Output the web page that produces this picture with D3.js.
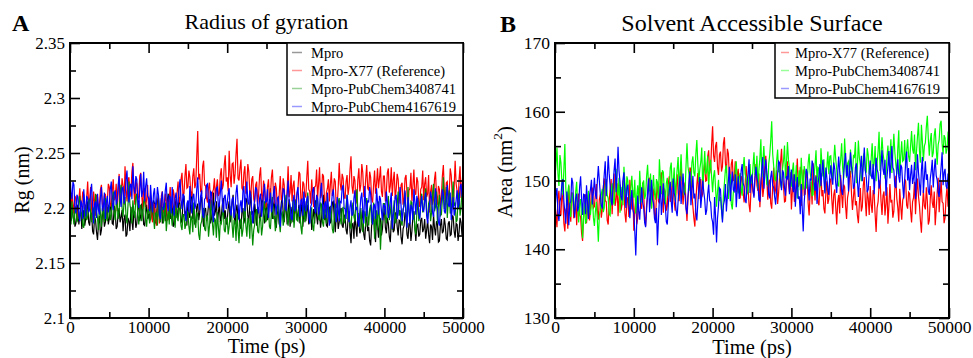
<!DOCTYPE html>
<html>
<head>
<meta charset="utf-8">
<script src="https://cdn.jsdelivr.net/npm/d3@7"></script>
<style>
  body { margin: 0; background: #fff; }
  text { font-family: "Liberation Serif", "Times New Roman", serif; fill: #000; }
</style>
</head>
<body>
<svg id="chart" width="973" height="358"></svg>
<script>
// simulation length, samples are evenly spaced over it
const tEnd = 50000;

// Panel A: radius of gyration (nm)
const rgMpro = [
  2.205,2.188,2.192,2.201,2.199,2.183,2.186,2.197,2.203,2.185,2.194,2.200,2.181,2.191,2.198,2.184,2.190,2.199,2.206,2.187,2.184,2.196,2.195,2.179,2.176,2.192,2.189,2.178,2.171,2.186,2.193,2.175,2.180,2.194,2.198,2.183,2.187,2.196,2.201,2.185,
  2.190,2.199,2.204,2.186,2.185,2.202,2.197,2.181,2.183,2.195,2.200,2.187,2.192,2.198,2.179,2.190,2.194,2.174,2.176,2.191,2.188,2.179,2.201,2.189,2.180,2.197,2.196,2.182,2.186,2.199,2.207,2.188,2.193,2.204,2.199,2.185,2.184,2.196,2.203,2.190,
  2.195,2.188,2.210,2.197,2.189,2.207,2.204,2.186,2.193,2.205,2.212,2.192,2.198,2.209,2.186,2.199,2.205,2.188,2.194,2.207,2.213,2.196,2.190,2.204,2.201,2.183,2.185,2.202,2.208,2.191,2.196,2.210,2.203,2.187,2.188,2.206,2.211,2.193,2.197,2.184,
  2.206,2.194,2.191,2.209,2.215,2.190,2.199,2.185,2.187,2.201,2.204,2.189,2.196,2.207,2.210,2.192,2.183,2.198,2.200,2.188,2.193,2.203,2.208,2.186,2.190,2.199,2.214,2.193,2.197,2.206,2.186,2.195,2.205,2.187,2.192,2.203,2.209,2.190,2.198,2.185,
  2.189,2.200,2.206,2.187,2.194,2.205,2.212,2.192,2.185,2.198,2.203,2.190,2.196,2.184,2.181,2.197,2.200,2.186,2.191,2.209,2.207,2.193,2.188,2.202,2.215,2.194,2.197,2.186,2.204,2.195,2.184,2.201,2.199,2.188,2.192,2.206,2.210,2.195,2.186,2.199,
  2.202,2.189,2.195,2.207,2.218,2.198,2.190,2.203,2.206,2.188,2.182,2.196,2.198,2.185,2.193,2.204,2.211,2.195,2.187,2.199,2.204,2.185,2.196,2.208,2.183,2.194,2.201,2.187,2.190,2.200,2.208,2.189,2.194,2.203,2.186,2.197,2.205,2.183,2.197,2.206,
  2.188,2.198,2.203,2.185,2.192,2.200,2.180,2.191,2.199,2.186,2.207,2.193,2.185,2.200,2.196,2.182,2.190,2.203,2.212,2.189,2.194,2.184,2.183,2.197,2.201,2.186,2.189,2.205,2.206,2.191,2.178,2.193,2.195,2.181,2.187,2.198,2.200,2.184,2.182,2.194,
  2.191,2.180,2.176,2.190,2.197,2.179,2.168,2.185,2.186,2.172,2.194,2.183,2.174,2.195,2.189,2.177,2.180,2.191,2.198,2.176,2.171,2.187,2.192,2.179,2.183,2.170,2.166,2.184,2.188,2.193,2.178,2.169,2.195,2.184,2.173,2.189,2.190,2.175,2.181,2.194,
  2.199,2.182,2.177,2.191,2.186,2.174,2.169,2.188,2.193,2.178,2.180,2.195,2.196,2.183,2.175,2.189,2.188,2.173,2.167,2.181,2.184,2.196,2.192,2.176,2.172,2.186,2.187,2.170,2.179,2.192,2.197,2.182,2.170,2.184,2.185,2.174,2.176,2.189,2.191,2.178,
  2.181,2.190,2.172,2.180,2.189,2.176,2.168,2.185,2.183,2.171,2.194,2.182,2.175,2.188,2.186,2.169,2.170,2.184,2.190,2.177,2.179,2.191,2.184,2.172,2.171,2.186,2.188,2.175,2.176,2.193,2.192,2.179,2.173,2.186,2.185,2.170,2.178,2.191,2.187,2.175,2.180];
const rgX77 = [
  2.201,2.193,2.214,2.205,2.195,2.211,2.209,2.196,2.190,2.207,2.218,2.200,2.203,2.215,2.212,2.194,2.196,2.210,2.224,2.202,2.207,2.219,2.199,2.189,2.215,2.206,2.193,2.212,2.210,2.198,2.204,2.217,2.221,2.203,2.198,2.211,2.213,2.195,2.206,2.222,
  2.219,2.204,2.201,2.215,2.226,2.207,2.209,2.222,2.197,2.213,2.231,2.205,2.212,2.227,2.220,2.203,2.238,2.217,2.206,2.225,2.228,2.210,2.214,2.233,2.241,2.216,2.203,2.224,2.222,2.207,2.211,2.229,2.232,2.212,2.199,2.218,2.217,2.201,2.208,2.221,
  2.196,2.207,2.212,2.193,2.187,2.204,2.203,2.190,2.184,2.199,2.209,2.186,2.192,2.211,2.215,2.197,2.198,2.213,2.206,2.189,2.190,2.208,2.219,2.200,2.201,2.217,2.212,2.196,2.195,2.214,2.224,2.205,2.207,2.226,2.232,2.211,2.213,2.229,2.240,2.218,
  2.219,2.234,2.228,2.212,2.211,2.229,2.236,2.218,2.222,2.247,2.270,2.226,2.231,2.215,2.214,2.238,2.243,2.221,2.220,2.209,2.205,2.218,2.223,2.206,2.199,2.214,2.217,2.227,2.208,2.219,2.226,2.211,2.213,2.230,2.236,2.217,2.221,2.239,2.248,2.224,
  2.228,2.215,2.252,2.230,2.219,2.240,2.241,2.222,2.231,2.249,2.263,2.227,2.225,2.236,2.244,2.218,2.216,2.232,2.238,2.213,2.222,2.240,2.233,2.214,2.210,2.226,2.229,2.208,2.205,2.221,2.224,2.203,2.213,2.230,2.237,2.212,2.207,2.225,2.219,2.200,
  2.202,2.219,2.226,2.208,2.211,2.228,2.235,2.215,2.204,2.223,2.218,2.201,2.197,2.214,2.229,2.207,2.209,2.227,2.221,2.199,2.200,2.216,2.238,2.210,2.214,2.230,2.206,2.220,2.225,2.205,2.195,2.212,2.217,2.233,2.231,2.208,2.203,2.224,2.222,2.211,
  2.210,2.228,2.243,2.217,2.215,2.204,2.226,2.212,2.201,2.219,2.220,2.235,2.208,2.222,2.237,2.209,2.212,2.231,2.229,2.207,2.198,2.214,2.218,2.226,2.206,2.221,2.233,2.211,2.214,2.227,2.224,2.200,2.203,2.219,2.241,2.222,2.216,2.231,2.227,2.209,
  2.209,2.224,2.230,2.212,2.219,2.235,2.247,2.220,2.213,2.229,2.225,2.204,2.207,2.226,2.236,2.215,2.221,2.240,2.232,2.211,2.212,2.227,2.239,2.218,2.216,2.233,2.228,2.208,2.205,2.221,2.234,2.213,2.222,2.236,2.218,2.227,2.238,2.215,2.210,2.229,
  2.229,2.206,2.215,2.232,2.236,2.214,2.220,2.237,2.211,2.225,2.233,2.208,2.217,2.231,2.226,2.210,2.204,2.221,2.223,2.203,2.209,2.227,2.230,2.213,2.198,2.216,2.218,2.232,2.206,2.220,2.235,2.214,2.212,2.228,2.224,2.205,2.201,2.217,2.219,2.234,
  2.207,2.222,2.228,2.210,2.213,2.230,2.196,2.215,2.221,2.203,2.208,2.226,2.233,2.212,2.203,2.220,2.217,2.201,2.211,2.229,2.239,2.216,2.205,2.223,2.224,2.208,2.214,2.236,2.230,2.212,2.200,2.219,2.243,2.222,2.215,2.204,2.226,2.238,2.209,2.221,2.235];
const rgPC3408741 = [
  2.193,2.185,2.206,2.194,2.185,2.200,2.201,2.187,2.190,2.205,2.211,2.193,2.196,2.184,2.182,2.199,2.203,2.189,2.192,2.207,2.208,2.195,2.187,2.201,2.199,2.186,2.213,2.196,2.191,2.180,2.204,2.195,2.183,2.200,2.197,2.187,2.209,2.192,2.188,2.202,
  2.202,2.189,2.194,2.208,2.215,2.196,2.189,2.203,2.206,2.190,2.197,2.214,2.221,2.200,2.192,2.205,2.210,2.193,2.186,2.202,2.224,2.203,2.198,2.186,2.207,2.196,2.191,2.210,2.213,2.194,2.185,2.199,2.203,2.188,2.195,2.206,2.209,2.190,2.183,2.197,
  2.199,2.186,2.190,2.202,2.205,2.191,2.181,2.195,2.196,2.184,2.208,2.193,2.187,2.199,2.201,2.186,2.193,2.205,2.179,2.190,2.198,2.185,2.206,2.194,2.184,2.198,2.195,2.182,2.203,2.192,2.188,2.200,2.200,2.184,2.180,2.194,2.194,2.181,2.185,2.197,
  2.197,2.183,2.176,2.193,2.190,2.178,2.205,2.187,2.182,2.196,2.194,2.176,2.171,2.185,2.188,2.198,2.200,2.181,2.179,2.192,2.193,2.174,2.184,2.197,2.207,2.186,2.175,2.191,2.189,2.173,2.196,2.183,2.170,2.188,2.186,2.194,2.199,2.180,2.178,2.190,
  2.191,2.176,2.183,2.195,2.202,2.185,2.173,2.189,2.187,2.170,2.195,2.181,2.168,2.186,2.190,2.174,2.180,2.193,2.204,2.184,2.174,2.191,2.188,2.172,2.197,2.182,2.166,2.180,2.185,2.194,2.199,2.179,2.177,2.190,2.192,2.175,2.183,2.198,2.206,2.187,
  2.189,2.204,2.199,2.183,2.181,2.196,2.210,2.190,2.193,2.179,2.186,2.201,2.204,2.187,2.178,2.194,2.197,2.184,2.190,2.205,2.212,2.193,2.184,2.198,2.201,2.186,2.194,2.207,2.182,2.195,2.207,2.189,2.188,2.200,2.198,2.183,2.176,2.192,2.203,2.187,
  2.192,2.203,2.214,2.195,2.186,2.199,2.200,2.184,2.179,2.193,2.196,2.210,2.208,2.190,2.189,2.205,2.203,2.187,2.183,2.197,2.199,2.186,2.211,2.194,2.187,2.202,2.195,2.181,2.177,2.192,2.204,2.188,2.193,2.206,2.209,2.191,2.185,2.198,2.201,2.186,
  2.190,2.202,2.212,2.189,2.196,2.185,2.181,2.197,2.205,2.192,2.188,2.208,2.217,2.196,2.194,2.182,2.200,2.187,2.178,2.193,2.197,2.183,2.209,2.195,2.184,2.199,2.203,2.186,2.191,2.205,2.172,2.189,2.198,2.180,2.206,2.190,2.162,2.183,2.193,2.204,
  2.204,2.192,2.186,2.200,2.211,2.189,2.195,2.207,2.180,2.196,2.207,2.186,2.191,2.203,2.215,2.193,2.198,2.187,2.184,2.199,2.202,2.214,2.194,2.183,2.219,2.197,2.188,2.206,2.205,2.190,2.197,2.181,2.176,2.195,2.209,2.188,2.192,2.206,2.213,2.196,
  2.199,2.210,2.218,2.195,2.190,2.204,2.207,2.188,2.196,2.213,2.222,2.197,2.201,2.215,2.186,2.203,2.212,2.193,2.194,2.208,2.228,2.199,2.203,2.219,2.191,2.206,2.216,2.195,2.198,2.211,2.224,2.202,2.205,2.187,2.189,2.209,2.214,2.193,2.200,2.217,2.221];
const rgPC4167619 = [
  2.232,2.214,2.208,2.224,2.221,2.200,2.195,2.212,2.210,2.193,2.188,2.207,2.204,2.190,2.217,2.203,2.192,2.211,2.209,2.196,2.199,2.215,2.222,2.201,2.186,2.204,2.206,2.191,2.213,2.198,2.194,2.210,2.219,2.197,2.201,2.214,2.190,2.205,2.211,2.196,
  2.203,2.217,2.224,2.205,2.198,2.213,2.216,2.203,2.207,2.221,2.229,2.209,2.201,2.218,2.219,2.204,2.210,2.226,2.234,2.212,2.205,2.220,2.222,2.208,2.238,2.219,2.213,2.229,2.226,2.206,2.200,2.217,2.231,2.210,2.215,2.233,2.206,2.220,2.227,2.211,
  2.209,2.197,2.221,2.206,2.196,2.213,2.218,2.200,2.204,2.219,2.212,2.194,2.190,2.207,2.215,2.198,2.201,2.216,2.223,2.203,2.197,2.211,2.210,2.195,2.219,2.204,2.193,2.209,2.214,2.200,2.205,2.218,2.226,2.208,2.199,2.213,2.211,2.196,2.188,2.204,
  2.207,2.196,2.220,2.205,2.195,2.210,2.213,2.199,2.203,2.217,2.228,2.206,2.198,2.211,2.216,2.194,2.191,2.208,2.209,2.221,2.222,2.203,2.200,2.215,2.214,2.197,2.187,2.204,2.206,2.218,2.219,2.201,2.202,2.214,2.225,2.207,2.196,2.210,2.212,2.199,
  2.204,2.213,2.218,2.197,2.193,2.208,2.210,2.191,2.199,2.214,2.221,2.205,2.189,2.202,2.207,2.196,2.215,2.220,2.197,2.209,2.224,2.206,2.203,2.216,2.211,2.197,2.186,2.201,2.208,2.219,2.217,2.200,2.195,2.209,2.213,2.192,2.200,2.214,2.222,2.205,
  2.206,2.217,2.191,2.204,2.214,2.196,2.201,2.213,2.220,2.203,2.194,2.209,2.210,2.195,2.183,2.200,2.205,2.218,2.216,2.199,2.198,2.212,2.225,2.207,2.203,2.191,2.189,2.206,2.212,2.197,2.200,2.214,2.219,2.204,2.192,2.207,2.208,2.193,2.215,2.202,
  2.197,2.208,2.211,2.193,2.186,2.201,2.204,2.216,2.219,2.200,2.195,2.212,2.209,2.194,2.201,2.215,2.223,2.205,2.190,2.203,2.206,2.191,2.214,2.199,2.184,2.198,2.202,2.213,2.217,2.204,2.196,2.187,2.210,2.199,2.188,2.206,2.205,2.218,2.221,2.200,
  2.199,2.190,2.212,2.203,2.187,2.201,2.207,2.193,2.195,2.209,2.216,2.198,2.201,2.188,2.183,2.197,2.209,2.214,2.198,2.186,2.220,2.204,2.192,2.207,2.205,2.219,2.213,2.196,2.185,2.202,2.203,2.190,2.218,2.206,2.194,2.211,2.208,2.197,2.189,2.203,
  2.202,2.194,2.215,2.205,2.191,2.198,2.206,2.214,2.181,2.193,2.199,2.210,2.212,2.190,2.196,2.208,2.219,2.201,2.188,2.197,2.204,2.216,2.193,2.182,2.210,2.199,2.185,2.203,2.200,2.189,2.217,2.206,2.194,2.211,2.207,2.195,2.190,2.203,2.211,2.198,
  2.197,2.206,2.214,2.193,2.186,2.198,2.203,2.215,2.209,2.196,2.192,2.205,2.218,2.202,2.199,2.187,2.184,2.200,2.206,2.217,2.213,2.197,2.195,2.209,2.221,2.203,2.201,2.214,2.189,2.199,2.210,2.193,2.198,2.207,2.216,2.200,2.204,2.219,2.222,2.211,2.208];

// Panel B: solvent accessible surface area (nm^2)
const sasX77 = [
  146.8,144.9,143.2,147.4,148.5,145.3,144.9,148.2,147.3,143.8,142.6,145.7,146.1,143.0,149.2,146.4,144.0,148.3,147.8,144.5,145.2,147.6,143.5,146.8,148.1,145.0,144.7,142.3,141.2,144.6,146.5,148.0,143.8,145.9,147.9,144.2,145.6,149.1,148.8,146.0,
  146.2,148.1,149.5,145.7,144.3,147.2,148.0,144.6,145.7,149.0,150.3,147.1,146.9,144.2,143.6,147.0,148.7,150.2,145.1,148.4,151.0,146.3,147.2,149.6,144.8,147.5,149.4,145.6,146.4,150.0,148.9,145.2,143.9,146.8,147.6,144.7,150.1,147.9,145.8,148.6,
  142.7,145.8,147.1,143.6,144.5,148.0,149.3,146.2,145.9,149.7,148.2,144.8,143.4,146.5,147.7,150.1,150.4,147.3,146.0,149.0,148.6,145.1,144.2,147.8,149.8,147.0,146.7,150.3,151.2,148.1,145.3,148.8,148.4,145.6,146.3,149.5,150.6,146.9,147.5,149.9,
  149.1,146.8,145.6,148.9,150.9,148.2,147.0,150.4,152.3,149.0,146.5,148.7,149.7,146.3,144.1,147.5,148.8,151.9,151.5,148.0,146.2,144.5,143.3,147.1,149.4,151.1,147.3,149.8,150.2,147.6,148.1,151.4,152.6,149.9,150.0,153.5,154.4,151.0,151.8,155.2,
  157.9,153.6,152.7,155.0,155.6,151.9,150.8,153.8,154.2,151.3,152.0,155.4,156.3,152.5,151.1,154.6,153.9,150.7,149.6,152.4,153.1,149.9,150.5,152.8,148.3,150.9,151.7,148.6,147.4,150.6,150.3,148.2,146.8,149.4,152.1,150.0,148.9,146.5,145.4,148.7,
  150.7,148.4,147.8,150.6,152.4,149.3,148.5,151.0,146.1,148.9,151.3,147.6,149.0,152.2,153.6,150.4,147.2,149.8,150.1,146.7,145.9,149.1,151.9,148.0,148.7,151.5,146.6,148.2,150.5,152.7,154.6,150.8,149.2,146.9,147.0,150.3,152.8,149.5,148.3,151.2,
  145.8,148.5,150.9,146.9,147.6,150.5,153.2,149.1,149.5,152.0,146.3,148.8,151.6,147.9,148.0,151.4,150.4,146.7,144.9,148.2,149.8,146.5,152.5,149.6,147.1,150.8,150.0,146.8,146.4,149.3,151.1,147.7,148.6,145.9,145.2,148.4,149.9,146.6,147.3,150.2,
  150.2,147.3,145.1,147.9,148.7,146.1,143.6,146.8,147.9,145.2,150.8,148.0,146.0,149.4,149.1,146.3,144.4,147.5,148.3,150.6,151.4,148.1,145.7,147.6,149.6,146.4,147.0,144.9,143.8,146.7,148.9,145.5,146.2,149.3,150.5,147.2,144.8,148.6,147.4,145.0,
  149.2,146.5,145.3,148.6,148.0,145.1,142.5,146.0,146.9,149.3,150.1,147.0,145.0,147.8,148.4,144.9,146.6,149.0,143.7,146.2,149.5,146.8,147.2,144.6,145.5,148.7,150.7,147.4,146.1,144.0,148.8,146.3,144.3,147.1,147.7,150.2,149.9,146.4,145.9,148.3,
  148.1,145.6,143.9,146.9,147.5,149.8,145.1,148.2,150.3,147.7,146.4,144.1,142.4,145.9,148.6,146.3,145.8,149.0,147.0,143.6,144.2,147.3,149.3,146.8,146.0,148.4,143.5,145.7,148.2,150.4,145.4,147.6,150.0,146.9,146.7,143.8,144.6,147.5,149.1,146.2,148.0];
const sasPC3408741 = [
  150.5,152.3,154.8,151.0,149.2,153.7,152.6,149.8,147.9,151.6,155.3,148.8,146.1,148.3,149.4,145.2,144.7,147.6,148.2,145.9,145.5,148.4,149.8,146.3,143.9,146.6,147.3,144.5,141.6,144.8,146.8,143.7,144.2,147.1,148.5,145.8,145.0,146.9,147.7,144.6,
  143.4,145.5,146.9,144.2,141.1,144.9,145.6,148.0,148.8,145.4,146.0,149.3,150.2,147.9,147.4,145.1,144.9,148.1,149.6,147.2,146.5,149.0,151.7,148.6,147.8,150.4,145.3,147.7,149.1,146.4,152.0,149.4,147.0,150.6,149.9,146.8,146.3,148.9,150.7,148.0,
  147.5,150.1,145.2,147.8,149.3,146.6,151.4,148.7,146.8,149.5,150.0,147.3,147.9,150.6,152.3,149.2,148.4,151.0,145.9,148.6,150.8,148.1,147.2,150.2,149.7,147.4,153.1,150.3,148.0,151.5,151.2,148.3,146.6,149.6,150.4,147.7,148.9,151.8,152.6,149.1,
  149.5,151.9,147.1,149.7,151.6,153.4,148.6,151.2,153.8,150.1,150.3,148.0,148.2,152.1,155.4,152.0,151.0,148.5,149.4,152.6,153.5,151.1,150.6,153.9,155.9,152.4,149.8,151.6,152.7,154.8,148.7,151.4,154.3,150.9,151.3,153.6,149.0,151.8,153.0,150.5,
  148.3,150.6,151.5,148.9,146.2,148.4,150.1,147.0,147.6,145.8,144.3,147.9,149.6,151.6,152.2,149.0,147.3,149.7,150.9,146.6,145.8,148.2,149.2,151.3,152.8,149.9,148.1,150.5,151.1,148.6,147.8,151.7,153.4,151.0,150.2,148.0,148.5,151.2,152.4,149.6,
  149.7,152.0,154.1,150.8,151.2,153.6,148.8,151.5,153.2,156.0,150.5,152.7,155.0,152.3,151.8,149.5,149.3,152.4,153.7,155.8,158.6,153.9,152.1,150.2,150.0,152.8,154.5,151.3,151.4,149.4,148.9,151.7,152.9,155.1,150.3,152.6,155.6,153.0,151.9,149.8,
  149.1,151.3,152.6,149.7,150.0,152.2,147.4,149.9,151.5,148.6,153.3,150.4,148.7,152.1,151.0,148.8,149.5,152.5,153.9,151.2,150.2,147.8,147.9,150.7,152.3,154.4,149.8,151.9,151.7,149.0,154.7,152.4,150.6,153.1,148.4,150.8,152.0,154.2,150.9,153.5,
  153.6,151.2,150.1,152.9,155.2,153.1,151.6,149.3,149.2,151.8,153.0,155.4,151.9,150.2,156.1,153.2,150.4,152.5,152.8,150.6,154.5,152.0,150.9,153.6,153.4,155.6,149.6,152.1,155.8,153.3,152.2,149.9,150.7,153.5,154.0,151.5,151.3,154.7,153.7,151.0,
  150.8,153.2,155.4,151.7,152.5,155.0,149.9,152.6,154.2,157.1,151.4,153.8,156.3,154.0,152.9,150.3,150.6,153.4,155.1,152.2,153.3,156.0,151.1,153.9,156.8,154.1,152.4,150.9,154.6,157.3,150.7,153.6,155.7,152.8,153.0,155.9,151.8,154.3,156.0,153.5,
  152.7,155.1,157.2,154.6,153.9,156.7,151.5,154.2,156.4,158.4,154.3,152.6,158.1,155.6,152.8,155.0,155.5,157.8,159.4,156.1,153.6,155.8,156.9,153.4,154.0,156.5,157.6,154.8,152.3,155.2,155.9,158.2,158.7,155.4,153.8,156.6,156.2,153.9,154.6,157.0,157.3];
const sasPC4167619 = [
  145.8,147.9,148.9,145.2,144.1,146.9,147.6,149.6,150.2,147.0,145.3,143.7,148.4,146.1,143.5,146.6,147.0,150.4,149.7,146.2,144.6,147.4,148.1,145.5,146.2,149.1,150.6,147.3,145.0,148.0,147.9,145.1,149.3,146.7,144.4,147.8,148.7,150.1,146.5,148.3,
  150.4,148.1,147.3,149.9,152.1,150.0,148.0,146.4,145.9,148.7,150.9,152.8,147.7,150.3,153.6,151.0,149.2,147.0,146.4,149.5,151.5,153.2,148.3,150.7,154.9,151.4,149.8,147.6,147.1,150.1,151.2,148.4,146.0,148.9,149.4,146.6,144.5,147.2,148.6,145.8,
  145.2,142.6,139.1,144.0,147.8,145.5,144.3,147.1,149.0,146.8,146.1,143.9,143.2,145.7,148.2,150.3,145.4,147.6,150.1,147.3,146.7,144.5,143.8,146.0,140.6,144.2,147.4,149.2,145.0,147.1,149.6,146.9,146.3,144.0,143.6,146.4,148.5,149.8,146.9,145.3,
  150.3,148.2,147.5,145.6,144.8,147.0,149.1,150.6,146.6,148.8,151.0,148.3,147.9,145.9,145.1,147.7,149.8,151.3,146.4,148.6,150.7,147.4,148.1,145.3,144.2,146.7,148.8,150.5,146.0,147.8,150.0,148.4,147.2,145.0,145.7,148.0,149.4,147.1,146.8,144.6,
  144.0,142.1,147.6,144.8,141.0,144.5,146.3,148.9,148.7,145.9,143.9,146.4,147.1,149.5,145.5,147.8,149.9,152.0,147.0,149.3,151.3,148.6,148.4,150.9,146.1,148.5,150.6,147.3,148.9,151.4,152.4,149.6,149.1,147.2,146.7,149.7,151.0,153.1,148.2,150.5,
  150.8,148.6,147.5,150.2,152.0,150.4,149.6,147.2,146.9,149.8,151.7,153.4,148.8,150.7,153.1,151.2,150.0,147.9,147.4,150.5,151.4,149.3,149.0,147.6,146.5,148.7,150.9,152.8,152.6,149.9,148.6,151.5,151.1,148.9,147.8,150.6,150.3,152.1,148.0,149.7,
  151.6,149.4,148.3,150.9,146.2,148.7,150.5,147.3,147.7,145.1,149.5,146.0,142.6,146.8,148.9,151.7,151.2,149.0,147.1,150.3,150.0,152.9,152.3,149.8,148.5,150.6,146.6,149.3,150.8,152.4,149.2,151.4,153.0,150.1,148.1,151.9,150.4,148.6,147.9,150.7,
  152.2,150.3,149.4,152.6,151.7,149.6,148.2,151.1,153.5,151.4,150.1,148.5,147.9,150.8,152.7,154.0,150.6,152.3,148.4,151.2,154.1,152.0,151.0,148.8,149.3,151.9,152.5,150.0,147.6,149.7,151.8,153.6,149.9,152.1,154.8,151.5,150.5,148.3,148.7,151.3,
  152.9,150.7,150.2,152.4,148.0,150.9,153.3,151.6,151.1,148.8,149.6,152.2,154.4,151.7,150.8,153.0,147.8,150.4,152.0,154.3,150.3,152.6,155.0,151.9,151.5,149.2,148.9,151.4,153.1,150.6,149.7,152.3,151.9,149.4,147.4,150.1,152.6,154.2,150.0,151.8,
  148.6,150.8,152.3,149.5,150.4,152.7,147.3,149.9,153.8,151.2,149.5,147.8,151.6,153.4,148.2,150.6,152.8,150.1,150.9,148.5,147.9,150.3,151.4,153.0,149.0,151.5,153.2,150.7,150.1,148.3,147.6,150.2,152.0,154.1,149.3,151.1,151.7,149.2,148.8,151.0,150.2];

const rgNames = ['Mpro', 'Mpro-X77 (Reference)', 'Mpro-PubChem3408741', 'Mpro-PubChem4167619'];
const sasNames = ['Mpro-X77 (Reference)', 'Mpro-PubChem3408741', 'Mpro-PubChem4167619'];

const timeTicks = [0, 10000, 20000, 30000, 40000, 50000];
const timeMinor = [5000, 15000, 25000, 35000, 45000];
const rgTicks = [2.1, 2.15, 2.2, 2.25, 2.3, 2.35];
const rgMinor = [2.125, 2.175, 2.225, 2.275, 2.325];
const sasTicks = [130, 140, 150, 160, 170];
const sasMinor = [135, 145, 155, 165];

const svg = d3.select('#chart');

function drawPanel(p) {
  const top = 43, bottom = 318;
  const x = d3.scaleLinear().domain([0, tEnd]).range([p.left, p.right]);
  const y = d3.scaleLinear().domain(p.yDomain).range([bottom, top]);
  const g = svg.append('g');

  g.append('text')
    .attr('x', p.letterX).attr('y', p.letterY)
    .attr('font-size', p.letterSize).attr('font-weight', 'bold')
    .text(p.letter);

  g.append('text')
    .attr('x', (p.left + p.right) / 2).attr('y', p.titleY)
    .attr('text-anchor', 'middle').attr('font-size', p.titleSize)
    .text(p.title);

  // data traces, drawn in series order so the last one sits on top
  p.series.forEach((s, k) => {
    const line = d3.line()
      .x((d, i) => x(i * tEnd / (s.length - 1)))
      .y(d => y(d));
    g.append('path')
      .attr('d', line(s))
      .attr('fill', 'none')
      .attr('stroke', p.colors[k])
      .attr('stroke-width', 1.2);
  });

  const tickStyle = sel => {
    sel.select('.domain').remove();
    sel.selectAll('line').attr('stroke', '#000').attr('stroke-width', 1.6);
    sel.selectAll('text').attr('font-size', p.tickSize).attr('fill', '#000')
      .attr('font-family', '"Liberation Serif", "Times New Roman", serif');
  };

  // major ticks, labelled on bottom and left, mirrored inside on top and right
  g.append('g').attr('transform', `translate(0,${bottom})`)
    .call(d3.axisBottom(x).tickValues(timeTicks).tickSize(-10).tickSizeOuter(0).tickPadding(3).tickFormat(d => String(d)))
    .call(tickStyle);
  g.append('g').attr('transform', `translate(0,${top})`)
    .call(d3.axisTop(x).tickValues(timeTicks).tickSize(-10).tickSizeOuter(0).tickFormat(''))
    .call(tickStyle);
  g.append('g').attr('transform', `translate(${p.left},0)`)
    .call(d3.axisLeft(y).tickValues(p.yTicks).tickSize(-10).tickSizeOuter(0).tickPadding(5).tickFormat(d => String(d)))
    .call(tickStyle);
  g.append('g').attr('transform', `translate(${p.right},0)`)
    .call(d3.axisRight(y).tickValues(p.yTicks).tickSize(-10).tickSizeOuter(0).tickFormat(''))
    .call(tickStyle);

  // minor ticks
  g.append('g').attr('transform', `translate(0,${bottom})`)
    .call(d3.axisBottom(x).tickValues(timeMinor).tickSize(-6).tickSizeOuter(0).tickFormat('')).call(tickStyle);
  g.append('g').attr('transform', `translate(0,${top})`)
    .call(d3.axisTop(x).tickValues(timeMinor).tickSize(-6).tickSizeOuter(0).tickFormat('')).call(tickStyle);
  g.append('g').attr('transform', `translate(${p.left},0)`)
    .call(d3.axisLeft(y).tickValues(p.yMinor).tickSize(-6).tickSizeOuter(0).tickFormat('')).call(tickStyle);
  g.append('g').attr('transform', `translate(${p.right},0)`)
    .call(d3.axisRight(y).tickValues(p.yMinor).tickSize(-6).tickSizeOuter(0).tickFormat('')).call(tickStyle);

  g.append('rect')
    .attr('x', p.left).attr('y', top)
    .attr('width', p.right - p.left).attr('height', bottom - top)
    .attr('fill', 'none').attr('stroke', '#000').attr('stroke-width', 2);

  g.append('text')
    .attr('x', (p.left + p.right) / 2).attr('y', p.xLabelY)
    .attr('text-anchor', 'middle').attr('font-size', p.labelSize)
    .text('Time (ps)');

  const yl = g.append('text')
    .attr('transform', `translate(${p.yLabelX},${p.yLabelY}) rotate(-90)`)
    .attr('text-anchor', 'middle').attr('font-size', p.labelSize);
  yl.append('tspan').text(p.yLabel);
  if (p.yLabelSup) {
    yl.append('tspan').attr('font-size', p.labelSize * 0.65).attr('dy', -p.labelSize * 0.5).text(p.yLabelSup);
    yl.append('tspan').attr('dy', p.labelSize * 0.5).text(')');
  }

  // legend box
  const lg = p.legend;
  g.append('rect')
    .attr('x', lg.x).attr('y', top)
    .attr('width', p.right - lg.x).attr('height', lg.h)
    .attr('fill', '#fff').attr('stroke', '#000').attr('stroke-width', 1.5);
  p.names.forEach((name, k) => {
    const cy = top + 9.5 + k * 18;
    g.append('line')
      .attr('x1', lg.x + lg.lineX0).attr('x2', lg.x + lg.lineX1)
      .attr('y1', cy).attr('y2', cy)
      .attr('stroke', p.colors[k]).attr('stroke-opacity', 0.4).attr('stroke-width', 1.5);
    g.append('text')
      .attr('x', lg.x + lg.textX).attr('y', cy + 5)
      .attr('font-size', lg.size)
      .text(name);
  });
}

drawPanel({
  letter: 'A', letterX: 12, letterY: 31, letterSize: 24,
  title: 'Radius of gyration', titleY: 29, titleSize: 22,
  left: 70, right: 463,
  yDomain: [2.1, 2.35], yTicks: rgTicks, yMinor: rgMinor,
  series: [rgMpro, rgX77, rgPC3408741, rgPC4167619],
  colors: ['#000000', '#ff0000', '#008b00', '#0000ff'],
  names: rgNames,
  tickSize: 17, labelSize: 20, xLabelY: 353,
  yLabel: 'Rg (nm)', yLabelX: 29, yLabelY: 180,
  legend: { x: 287, h: 72, lineX0: 5, lineX1: 15, textX: 24, size: 14.5 }
});

drawPanel({
  letter: 'B', letterX: 500, letterY: 32, letterSize: 24,
  title: 'Solvent Accessible Surface', titleY: 31, titleSize: 24,
  left: 555, right: 949,
  yDomain: [130, 170], yTicks: sasTicks, yMinor: sasMinor,
  series: [sasX77, sasPC3408741, sasPC4167619],
  colors: ['#ff0000', '#00ff00', '#0000ff'],
  names: sasNames,
  tickSize: 17.5, labelSize: 20.5, xLabelY: 354,
  yLabel: 'Area (nm', yLabelSup: '2', yLabelX: 512, yLabelY: 172,
  legend: { x: 775, h: 55, lineX0: 6, lineX1: 14, textX: 20, size: 14.5 }
});
</script>
</body>
</html>
